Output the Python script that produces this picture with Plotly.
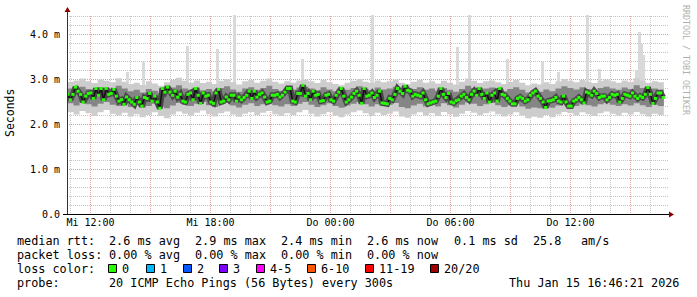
import pandas as pd
import plotly.graph_objects as go

# ---------------- data ----------------
median_ms = [
    2.67,2.55,2.67,2.83,2.74,2.67,2.50,2.63,2.69,2.70,2.58,2.80,2.65,2.80,2.55,2.80,2.67,2.69,2.78,2.63,
    2.52,2.55,2.45,2.61,2.55,2.50,2.45,2.60,2.50,2.41,2.60,2.58,2.69,2.52,2.63,2.50,2.36,2.80,2.72,2.83,
    2.72,2.65,
    2.74,2.61,2.67,2.52,2.50,2.67,2.70,2.55,2.80,2.65,2.47,2.70,2.63,2.65,2.50,2.47,2.70,2.78,2.50,2.52,
    2.61,2.55,2.65,2.65,2.52,2.61,2.55,2.60,2.65,2.74,2.58,2.74,2.61,2.67,2.70,2.61,2.50,2.52,2.65,2.65,
    2.67,2.61,2.65,2.72,2.80,2.80,
    2.52,2.50,2.69,2.69,2.87,2.63,2.69,2.55,2.74,2.65,2.67,2.52,2.53,2.65,2.67,2.55,2.52,2.65,2.72,2.80,
    2.63,2.50,2.55,2.61,2.69,2.74,2.65,2.47,2.80,2.63,2.65,2.70,2.60,2.65,2.74,2.48,2.47,2.46,2.58,2.55,
    2.67,2.80,2.74,2.69,2.85,2.76,2.74,2.63,2.67,
    2.65,2.63,2.70,2.55,2.46,2.48,2.50,2.52,2.63,2.80,2.67,2.60,2.69,2.50,2.48,2.53,2.55,2.63,2.67,2.60,
    2.55,2.67,2.74,2.65,2.80,2.67,2.58,2.70,2.50,2.65,2.70,2.52,2.80,2.67,2.65,2.58,2.52,2.46,2.46,2.58,
    2.61,2.58,2.52,2.55,2.65,2.70,2.74,2.63,2.58,
    2.50,2.38,2.52,2.53,2.55,2.60,2.52,2.50,2.63,2.50,2.41,2.41,2.52,2.55,2.60,2.55,2.48,2.72,2.70,2.65,
    2.74,2.69,2.60,2.63,2.63,2.55,2.60,2.67,2.65,2.67,2.50,2.58,2.67,2.65,2.63,2.70,2.63,2.58,2.63,2.60,
    2.67,2.82,2.67,2.47,2.58,2.70,2.70,2.60,
]

smoke_outer_hi = [
    2.95,2.98,3.02,2.96,2.92,3.00,2.97,2.94,3.03,2.95,2.90,2.93,2.88,2.96,2.91,2.86,2.94,2.99,3.04,2.97,
    2.93,2.98,2.92,2.95,2.90,2.97,3.01,2.94,2.89,2.96,2.99,2.93,2.97,3.02,2.95,2.91,2.96,2.93,2.98,3.00,
    2.96,2.92,2.99,2.94,2.90,2.87,2.93,2.97,3.01,2.95,2.92,2.98,2.94,2.96,3.00,2.93,2.90,2.95,2.99,2.93,
    2.96,2.91,2.97,2.93,2.89,2.95,3.02,2.97,2.92,2.96,2.98,2.94,2.90,2.95,2.99,2.93,2.87,2.91,2.89,2.94,
    2.90,2.96,3.01,2.97,2.94,2.99,2.95,2.92,2.97,3.00,2.96,2.93,2.98,2.95,3.03,2.97,2.92,2.96,2.94,2.91,
]
smoke_outer_lo = [
    2.28,2.22,2.30,2.25,2.19,2.27,2.32,2.24,2.20,2.26,2.18,2.23,2.16,2.21,2.27,2.19,2.14,2.22,2.29,2.24,
    2.20,2.26,2.31,2.23,2.18,2.25,2.29,2.22,2.17,2.24,2.28,2.21,2.26,2.30,2.23,2.19,2.25,2.21,2.27,2.32,
    2.24,2.18,2.23,2.28,2.20,2.16,2.22,2.27,2.31,2.25,2.19,2.26,2.21,2.24,2.29,2.18,2.15,2.22,2.27,2.20,
    2.25,2.19,2.28,2.23,2.17,2.24,2.30,2.26,2.21,2.25,2.29,2.23,2.18,2.22,2.27,2.20,2.14,2.17,2.15,2.21,
    2.16,2.22,2.28,2.25,2.20,2.27,2.23,2.19,2.25,2.29,2.24,2.20,2.26,2.22,2.28,2.23,2.18,2.24,2.21,2.17,
]
smoke_inner_hi = [
    2.80,2.78,2.84,2.79,2.75,2.83,2.81,2.77,2.86,2.80,2.74,2.77,2.71,2.79,2.75,2.70,2.78,2.82,2.87,2.80,
    2.77,2.82,2.76,2.79,2.74,2.81,2.85,2.78,2.73,2.80,2.83,2.77,2.81,2.86,2.79,2.75,2.80,2.77,2.82,2.84,
    2.80,2.76,2.83,2.78,2.74,2.71,2.77,2.81,2.85,2.79,2.76,2.82,2.78,2.80,2.84,2.77,2.74,2.79,2.83,2.77,
    2.80,2.75,2.81,2.77,2.73,2.79,2.86,2.81,2.76,2.80,2.82,2.78,2.74,2.79,2.83,2.77,2.71,2.75,2.73,2.78,
    2.74,2.80,2.85,2.81,2.78,2.83,2.79,2.76,2.81,2.84,2.80,2.77,2.82,2.79,2.87,2.81,2.76,2.80,2.78,2.75,
]
smoke_inner_lo = [
    2.47,2.42,2.49,2.45,2.40,2.46,2.50,2.44,2.41,2.46,2.39,2.43,2.37,2.41,2.46,2.40,2.36,2.42,2.48,2.44,
    2.41,2.46,2.50,2.43,2.39,2.45,2.48,2.42,2.38,2.44,2.47,2.41,2.45,2.49,2.43,2.40,2.45,2.41,2.46,2.50,
    2.44,2.39,2.43,2.47,2.41,2.37,2.42,2.46,2.50,2.45,2.40,2.45,2.41,2.44,2.48,2.39,2.36,2.42,2.46,2.40,
    2.45,2.40,2.47,2.43,2.38,2.44,2.49,2.46,2.41,2.45,2.48,2.43,2.39,2.42,2.46,2.40,2.35,2.38,2.36,2.41,
    2.37,2.42,2.47,2.45,2.41,2.46,2.43,2.40,2.45,2.48,2.44,2.41,2.45,2.42,2.47,2.43,2.39,2.44,2.41,2.38,
]

spike_times = [
    "2026-01-14 13:51", "2026-01-14 14:39", "2026-01-14 16:51", "2026-01-14 18:21",
    "2026-01-14 19:12", "2026-01-14 22:36", "2026-01-15 02:06", "2026-01-15 06:21",
    "2026-01-15 06:57", "2026-01-15 08:51", "2026-01-15 10:36", "2026-01-15 11:24",
    "2026-01-15 12:51", "2026-01-15 13:27", "2026-01-15 15:18", "2026-01-15 15:27",
    "2026-01-15 15:33", "2026-01-15 15:39",
]
spike_top_ms = [3.16, 3.38, 3.75, 3.68, 4.60, 3.46, 4.60, 3.72, 4.60, 3.46,
                3.38, 3.16, 4.60, 3.24, 3.22, 4.05, 3.80, 3.55]
spike_base_ms = 2.8

x_range = ["2026-01-14 10:49:30", "2026-01-15 16:55:30"]
y_range = [-0.5 / 45, 199.5 / 45]
all_hours = pd.date_range("2026-01-14 11:00", "2026-01-15 16:00", freq="1h")
minor_hours = [t.strftime("%Y-%m-%d %H:%M") for t in all_hours if t.hour % 3 != 0]
major_hours = [t.strftime("%Y-%m-%d %H:%M") for t in all_hours if t.hour % 3 == 0]
label_map = {"2026-01-14 12:00": "Mi 12:00", "2026-01-14 18:00": "Mi 18:00",
             "2026-01-15 00:00": "Do 00:00", "2026-01-15 06:00": "Do 06:00",
             "2026-01-15 12:00": "Do 12:00"}
y_tick_vals = [0, 1, 2, 3, 4]
y_tick_text = ["0.0", "1.0 m", "2.0 m", "3.0 m", "4.0 m"]

loss_labels = ["0", "1", "2", "3", "4-5", "6-10", "11-19", "20/20"]
loss_colors = ["#26ff00", "#00b8ff", "#0059ff", "#7e00ff", "#ff00ff", "#ff5500", "#ff0000", "#a10000"]

# ---------------- figure ----------------
med_t = pd.date_range("2026-01-14 10:52", "2026-01-15 16:38", periods=len(median_ms))
smk_t = pd.date_range("2026-01-14 10:51", "2026-01-15 16:40", periods=len(smoke_outer_hi))

W, H = 697, 297
L, R, T, B = 67, 28, 15, 82
PW, PH = W - L - R, H - T - B

def px(xp):
    return (xp - L) / PW

def py(yp):
    return (H - B - yp) / PH

fig = go.Figure()

fig.add_trace(go.Bar(x=pd.to_datetime(spike_times), y=[v - spike_base_ms for v in spike_top_ms],
                     base=spike_base_ms, width=9 * 60 * 1000, marker=dict(color="#d9d9d9", line=dict(width=0)),
                     hoverinfo="skip"))

fig.add_trace(go.Scatter(x=smk_t, y=smoke_outer_lo, mode="lines", line=dict(width=0, shape="hv"),
                         hoverinfo="skip"))
fig.add_trace(go.Scatter(x=smk_t, y=smoke_outer_hi, mode="lines", line=dict(width=0, shape="hv"),
                         fill="tonexty", fillcolor="#cdcdcd", hoverinfo="skip"))
fig.add_trace(go.Scatter(x=smk_t, y=smoke_inner_lo, mode="lines", line=dict(width=0, shape="hv"),
                         hoverinfo="skip"))
fig.add_trace(go.Scatter(x=smk_t, y=smoke_inner_hi, mode="lines", line=dict(width=0, shape="hv"),
                         fill="tonexty", fillcolor="#858585", hoverinfo="skip"))
fig.add_trace(go.Scatter(x=med_t, y=median_ms, mode="lines", line=dict(width=6, color="#484848"),
                         hoverinfo="skip"))
fig.add_trace(go.Scatter(x=med_t, y=median_ms, mode="lines", line=dict(width=1.5, color="#111111"),
                         hoverinfo="skip"))
fig.add_trace(go.Scatter(x=med_t, y=median_ms, mode="markers",
                         marker=dict(symbol="square", size=3, color=loss_colors[0], line=dict(width=0)),
                         hoverinfo="skip"))

mono = "DejaVu Sans Mono"
fig.update_layout(
    width=W, height=H, margin=dict(l=L, r=R, t=T, b=B),
    paper_bgcolor="white", plot_bgcolor="white", showlegend=False, bargap=0,
    font=dict(family=mono, size=10, color="#000"),
    xaxis=dict(range=x_range, type="date",
               tickmode="array", tickvals=major_hours,
               ticktext=[label_map.get(t, "") for t in major_hours],
               showgrid=False, showline=False, zeroline=False, ticks="",
               tickfont=dict(family=mono, size=10, color="#000")),
    yaxis=dict(range=y_range, tickmode="array", tickvals=y_tick_vals, ticktext=y_tick_text,
               showgrid=True, gridcolor="#e49a9a", griddash="1px,1px", gridwidth=1,
               minor=dict(dtick=0.2, tick0=0, showgrid=True, gridcolor="#c4c4c4",
                          griddash="1px,1px", gridwidth=1),
               showline=False, zeroline=False, ticks="", ticklabelstandoff=6,
               tickfont=dict(family=mono, size=10, color="#000")),
)

shapes = []
# vertical grid: hourly grey, 3-hourly red (dotted)
for t in minor_hours:
    shapes.append(dict(type="line", xref="x", yref="paper", x0=t, x1=t, y0=0, y1=1, layer="between",
                       line=dict(color="#c8c8c8", width=1, dash="1px,1px")))
for t in major_hours:
    shapes.append(dict(type="line", xref="x", yref="paper", x0=t, x1=t, y0=0, y1=1, layer="between",
                       line=dict(color="#e8a4a4", width=1, dash="1px,1px")))
# axis lines
shapes.append(dict(type="line", xref="paper", yref="paper", x0=px(67.5), x1=px(67.5), y0=py(214.5), y1=py(10),
                   line=dict(color="#333", width=1)))
shapes.append(dict(type="line", xref="paper", yref="paper", x0=px(63), x1=px(672), y0=py(214.5), y1=py(214.5),
                   line=dict(color="#000", width=1)))
# arrows
shapes.append(dict(type="path", xref="paper", yref="paper",
                   path=f"M {px(64.5)},{py(12)} L {px(70.5)},{py(12)} L {px(67.5)},{py(7)} Z",
                   fillcolor="#8b0000", line=dict(width=0)))
shapes.append(dict(type="path", xref="paper", yref="paper",
                   path=f"M {px(669)},{py(211.5)} L {px(669)},{py(217.5)} L {px(674)},{py(214.5)} Z",
                   fillcolor="#8b0000", line=dict(width=0)))

anns = []
def txt(x, y, s, anchor="left", size=11.8, color="#000", angle=0, yanchor="middle"):
    anns.append(dict(x=px(x), y=py(y), xref="paper", yref="paper", text=s, showarrow=False,
                     xanchor=anchor, yanchor=yanchor, textangle=angle,
                     font=dict(family=mono, size=size, color=color)))

txt(10, 113, "Seconds", anchor="center", size=11.5, angle=-90)
txt(686, 60, "RRDTOOL / TOBI OETIKER", anchor="center", size=8.3, color="#b0b0b0", angle=90)

rows_y = [241, 255, 269, 283]
col_x = [107, 193, 279, 365, 452]
txt(15, rows_y[0], "median rtt:")
for xx, s in zip(col_x, ["2.6 ms avg", "2.9 ms max", "2.4 ms min", "2.6 ms now", "0.1 ms sd"]):
    txt(xx, rows_y[0], s)
txt(531, rows_y[0], "25.8")
txt(579, rows_y[0], "am/s")

txt(15, rows_y[1], "packet loss:")
for xx, s in zip(col_x[:4], ["0.00 % avg", "0.00 % max", "0.00 % min", "0.00 % now"]):
    txt(xx, rows_y[1], s)

txt(15, rows_y[2], "loss color:")
box_x = [108, 146, 183, 219, 256, 307, 365, 430]
for bx, lab, col in zip(box_x, loss_labels, loss_colors):
    shapes.append(dict(type="rect", xref="paper", yref="paper", x0=px(bx + 0.5), x1=px(bx + 8.5),
                       y0=py(272.5), y1=py(264.5), fillcolor=col, line=dict(color="#000", width=1)))
    txt(bx + 12, rows_y[2], lab)

txt(15, rows_y[3], "probe:")
txt(107, rows_y[3], "20 ICMP Echo Pings (56 Bytes) every 300s")
txt(681, rows_y[3], "Thu Jan 15 16:46:21 2026", anchor="right")

fig.update_layout(shapes=shapes, annotations=anns)
fig.write_html("out.html")
